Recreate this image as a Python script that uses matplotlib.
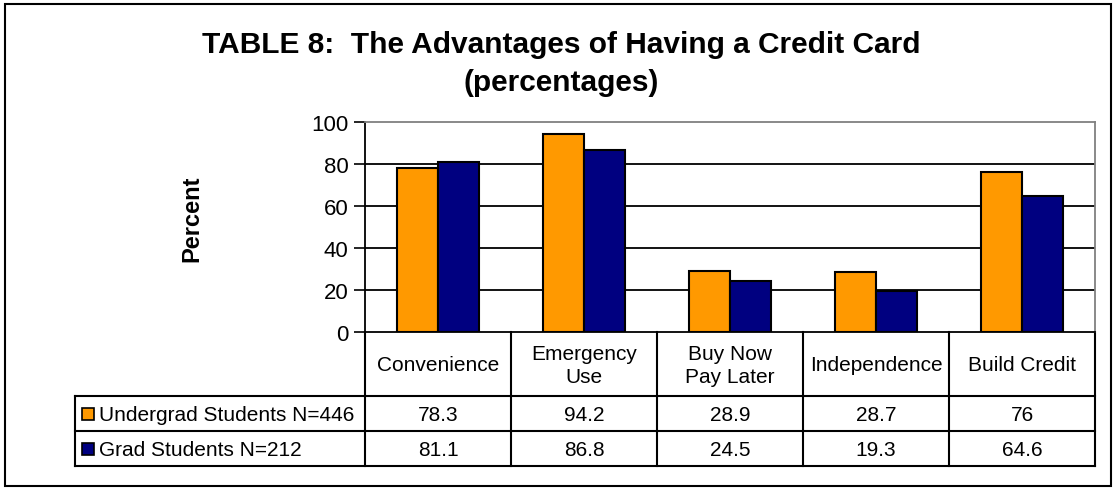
import matplotlib.pyplot as plt
from matplotlib.patches import Rectangle
from matplotlib.lines import Line2D
import matplotlib.transforms as mtransforms

plt.rcParams['font.family'] = ['Liberation Sans', 'DejaVu Sans']

categories = ['Convenience', 'Emergency\nUse', 'Buy Now\nPay Later', 'Independence', 'Build Credit']
undergrad = [78.3, 94.2, 28.9, 28.7, 76]
grad = [81.1, 86.8, 24.5, 19.3, 64.6]
undergrad_labels = ['78.3', '94.2', '28.9', '28.7', '76']
grad_labels = ['81.1', '86.8', '24.5', '19.3', '64.6']
series_names = ['Undergrad Students N=446', 'Grad Students N=212']
yticks = [0, 20, 40, 60, 80, 100]

orange = '#FF9900'
navy = '#000080'

W, H = 1116, 489
fig = plt.figure(figsize=(W / 100, H / 100), dpi=100)

# plot area in pixels
x0, x1 = 365, 1095
ytop, ybot = 123, 333
ax = fig.add_axes([x0 / W, 1 - ybot / H, (x1 - x0) / W, (ybot - ytop) / H])

n = len(categories)
xs = list(range(n))
bw = 0.28
ax.bar([x - bw / 2 for x in xs], undergrad, bw, color=orange, edgecolor='black', linewidth=1.5, zorder=3)
ax.bar([x + bw / 2 for x in xs], grad, bw, color=navy, edgecolor='black', linewidth=1.5, zorder=3)

ax.set_xlim(-0.5, n - 0.5)
ax.set_ylim(0, 100)
ax.set_yticks(yticks)
ax.set_yticklabels([str(t) for t in yticks], fontsize=16)
ax.set_xticks([])
ax.tick_params(axis='y', length=8, width=1.2, pad=4)
for t in yticks[1:-1]:
    ax.axhline(t, color='black', linewidth=1.3, zorder=1)
ax.spines['top'].set_color('#808080')
ax.spines['right'].set_color('#808080')
for s in ax.spines.values():
    s.set_linewidth(1.3)

# data table under the plot
trans = mtransforms.blended_transform_factory(ax.transData, ax.transAxes)
ph = ybot - ytop
def ay(ypix):
    return (ybot - ypix) / ph

r1, r2, r3 = 397, 432, 467
left_x = -0.5 - (x0 - 75) / ((x1 - x0) / n)
lkw = dict(color='black', linewidth=1.5, transform=trans, clip_on=False)
for k in range(n + 1):
    ax.add_line(Line2D([k - 0.5, k - 0.5], [0, ay(r3)], **lkw))
ax.add_line(Line2D([left_x, left_x], [ay(r1), ay(r3)], **lkw))
for yy in (r1, r2, r3):
    ax.add_line(Line2D([left_x, n - 0.5], [ay(yy), ay(yy)], **lkw))

for x, c in zip(xs, categories):
    ax.text(x, ay((ybot + r1) / 2 + 1), c, transform=trans, ha='center', va='center',
            fontsize=15, linespacing=1.25)
for x, a, b in zip(xs, undergrad_labels, grad_labels):
    ax.text(x, ay((r1 + r2) / 2 + 1), a, transform=trans, ha='center', va='center', fontsize=15)
    ax.text(x, ay((r2 + r3) / 2 + 1), b, transform=trans, ha='center', va='center', fontsize=15)

# legend keys in the row headers
for name, col, (ra, rb) in zip(series_names, [orange, navy], [(r1, r2), (r2, r3)]):
    yc = (ra + rb) / 2
    fig.patches.append(Rectangle((82 / W, 1 - (yc + 6) / H), 12 / W, 12 / H,
                                 facecolor=col, edgecolor='black', linewidth=1.2,
                                 transform=fig.transFigure))
    fig.text(99 / W, 1 - (yc + 1) / H, name, ha='left', va='center', fontsize=15)

fig.text(561 / W, 1 - 45 / H, 'TABLE 8:  The Advantages of Having a Credit Card',
         ha='center', va='center', fontsize=21.5, fontweight='bold')
fig.text(561 / W, 1 - 83 / H, '(percentages)', ha='center', va='center',
         fontsize=21.5, fontweight='bold')
fig.text(192 / W, 1 - 219 / H, 'Percent', ha='center', va='center', rotation=90,
         fontsize=17, fontweight='bold')

# outer frame
fig.patches.append(Rectangle((5 / W, 1 - 487 / H), 1106 / W, 482 / H, facecolor='none',
                             edgecolor='black', linewidth=1.5, transform=fig.transFigure))

fig.savefig('out.png', dpi=100)
